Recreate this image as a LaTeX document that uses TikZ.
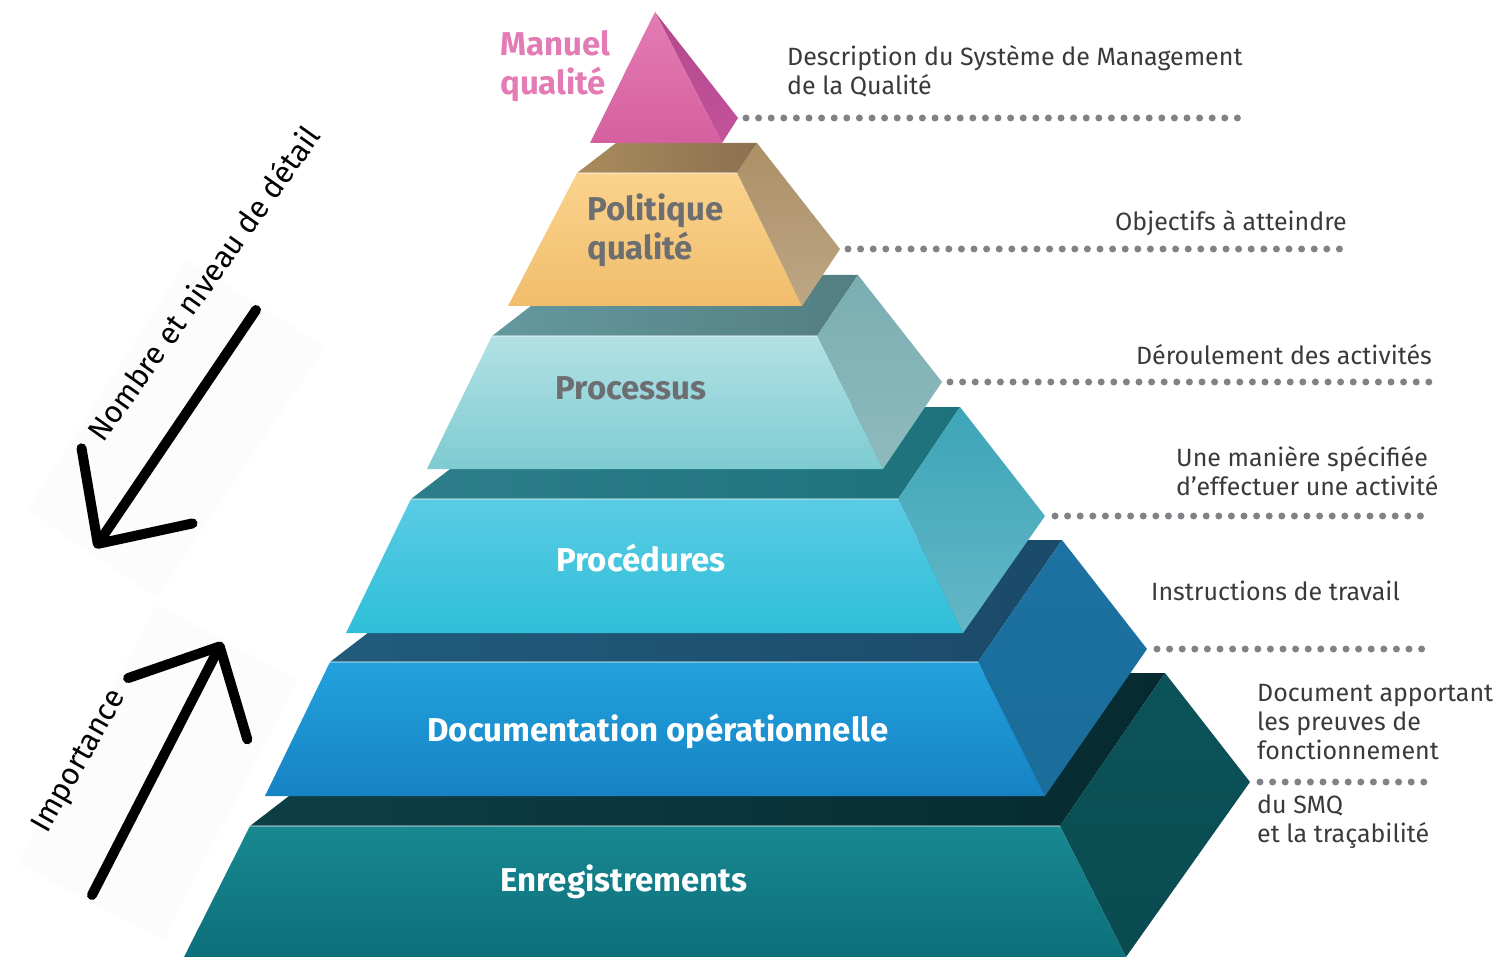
\documentclass[tikz,border=0pt]{standalone}
\usepackage{fontspec}
\setmainfont{Fira Sans}
\usetikzlibrary{arrows.meta,positioning}
\definecolor{pinkfront}{HTML}{E37CB4}
\definecolor{pinkfrontb}{HTML}{D6609F}
\definecolor{pinkside}{HTML}{C4529B}
\definecolor{goldfront}{HTML}{FBD38C}
\definecolor{goldfrontb}{HTML}{F0BD6C}
\definecolor{goldtopl}{HTML}{A98B5C}
\definecolor{goldtopr}{HTML}{8B7150}
\definecolor{goldside}{HTML}{AC9066}
\definecolor{aquafront}{HTML}{B2E1E5}
\definecolor{aquafrontb}{HTML}{7ECBD2}
\definecolor{aquatopl}{HTML}{64999E}
\definecolor{aquatopr}{HTML}{537E82}
\definecolor{aquaside}{HTML}{7AAEB2}
\definecolor{cyanfront}{HTML}{5BCBE4}
\definecolor{cyanfrontb}{HTML}{2EBFD8}
\definecolor{cyantopl}{HTML}{2C7F8A}
\definecolor{cyantopr}{HTML}{1E727C}
\definecolor{cyanside}{HTML}{3DA5B8}
\definecolor{bluefront}{HTML}{22A2DD}
\definecolor{bluefrontb}{HTML}{1782C3}
\definecolor{bluetopl}{HTML}{215B7C}
\definecolor{bluetopr}{HTML}{1B4A6A}
\definecolor{blueside}{HTML}{1C72A2}
\definecolor{tealfront}{HTML}{178891}
\definecolor{tealfrontb}{HTML}{0D6F79}
\definecolor{tealtopl}{HTML}{0D3F47}
\definecolor{tealtopr}{HTML}{062A30}
\definecolor{tealside}{HTML}{0B5359}
\definecolor{labelgray}{HTML}{6D6E71}
\definecolor{notegray}{HTML}{3A3A3A}
\definecolor{dotgray}{HTML}{808285}
\tikzset{
  % 金字塔各层的文字
  lvl/.style={font=\fontsize{33}{39}\selectfont\bfseries, align=left, inner sep=0pt},
  % 右侧说明
  note/.style={font=\fontsize{25}{29}\selectfont, text=notegray, inner sep=0pt},
  % 点线
  dots/.style={draw=dotgray, line width=7pt, line cap=round, dash pattern=on 0pt off 12.6pt},
  % 高光
  gloss/.style={draw=white, line width=1.5pt, opacity=.35},
}

\begin{document}
\begin{tikzpicture}[x=1pt, y=-1pt,
        bigarrow/.style={line width=10pt, line cap=round, line join=round,
            -{Straight Barb[length=70pt, width=134pt, line cap=round, line join=round]}},
        side/.style={font=\fontsize{30.5}{32}\selectfont, inner sep=0pt}
    ]
        \useasboundingbox (0,0) rectangle (1507,957);

        % 左侧浅色底
        \fill[black!1] (27,510) -- (187,260) -- (325,347) -- (157,597) -- cycle;
        \fill[black!1] (17,863) -- (157,605) -- (298,680) -- (163,940) -- cycle;

        % 第六层
        \shade[left color=tealtopl, right color=tealtopr] (250,826) -- (449,673) -- (1165,673) -- (1060,826) -- cycle;
        \shade[top color=tealside, bottom color=tealside!90!black] (1060,826) -- (1165,673) -- (1250,782) -- (1126,957) -- cycle;
        \shade[top color=tealfront, bottom color=tealfrontb] (250,826) -- (1060,826) -- (1126,957) -- (184,957) -- cycle;
        \draw[gloss] (250,826) -- (1060,826);
        \node[lvl, text=white] (enreg) at (624,882) {Enregistrements};

        % 第五层
        \shade[left color=bluetopl, right color=bluetopr] (330,662) -- (489,540) -- (1062,540) -- (978,662) -- cycle;
        \shade[top color=blueside, bottom color=blueside!95!black] (978,662) -- (1062,540) -- (1147,649) -- (1045,796) -- cycle;
        \shade[top color=bluefront, bottom color=bluefrontb] (330,662) -- (978,662) -- (1045,796) -- (265,796) -- cycle;
        \draw[gloss] (330,662) -- (978,662);
        \node[lvl, text=white] (docop) at (658,731) {Documentation opérationnelle};

        % 第四层
        \shade[left color=cyantopl, right color=cyantopr] (411,499) -- (531,407) -- (960,407) -- (898,499) -- cycle;
        \shade[top color=cyanside, bottom color=cyanside!80!white] (898,499) -- (960,407) -- (1045,516) -- (963,633) -- cycle;
        \shade[top color=cyanfront, bottom color=cyanfrontb] (411,499) -- (898,499) -- (963,633) -- (346,633) -- cycle;
        \draw[gloss] (411,499) -- (898,499);
        \node[lvl, text=white] (procedures) at (641,558) {Procédures};

        % 第三层
        \shade[left color=aquatopl, right color=aquatopr] (492,336) -- (571,275) -- (858,275) -- (817,336) -- cycle;
        \shade[top color=aquaside, bottom color=aquaside!85!white] (817,336) -- (858,275) -- (942,382) -- (883,469) -- cycle;
        \shade[top color=aquafront, bottom color=aquafrontb] (492,336) -- (817,336) -- (883,469) -- (427,469) -- cycle;
        \draw[gloss] (492,336) -- (817,336);
        \node[lvl, text=labelgray] (processus) at (631,388) {Processus};

        % 第二层
        \shade[left color=goldtopl, right color=goldtopr] (577,173) -- (616,143) -- (757,143) -- (737,173) -- cycle;
        \shade[top color=goldside, bottom color=goldside!80!white] (737,173) -- (757,143) -- (840,249) -- (802,306) -- cycle;
        \shade[top color=goldfront, bottom color=goldfrontb] (577,173) -- (737,173) -- (802,306) -- (508,306) -- cycle;
        \draw[gloss] (577,173) -- (737,173);
        \node[lvl, text=labelgray, anchor=north west] (politique) at (587,194) {Politique\\qualité};

        % 顶层
        \shade[top color=pinkside!90!black, bottom color=pinkside] (655,12) -- (738,118) -- (722,143) -- cycle;
        \shade[top color=pinkfront, bottom color=pinkfrontb] (655,12) -- (722,143) -- (590,143) -- cycle;
        \node[lvl, text=pinkfront, anchor=north west] (manuel) at (500,30) {Manuel\\qualité};

        % 点线端点
        \coordinate (t1) at (746,118);  \coordinate (e1) at (1243,118);
        \coordinate (t2) at (848,249);  \coordinate (e2) at (1343,249);
        \coordinate (t3) at (950,382);  \coordinate (e3) at (1430,382);
        \coordinate (t4) at (1055,516); \coordinate (e4) at (1428,516);
        \coordinate (t5) at (1157,649); \coordinate (e5) at (1430,649);
        \coordinate (t6) at (1260,782); \coordinate (e6) at (1425,782);
        \foreach \i in {1,...,6}
            \draw[dots] (t\i) -- (e\i);

        % 右侧说明
        \node[note, anchor=north west, align=left] (n1) at (787,45) {Description du Système de Management\\de la Qualité};
        \node[note, anchor=north east] (n2) at (1347,210) {Objectifs à atteindre};
        \node[note, anchor=north east] (n3) at (1432,344) {Déroulement des activités};
        \node[note, anchor=north west, align=left] (n4) at (1176,446) {Une manière spécifiée\\d’effectuer une activité};
        \node[note, anchor=north west] (n5) at (1151,581) {Instructions de travail};
        \node[note, anchor=north west, align=left] (n6) at (1257,684) {Document apportant\\les preuves de\\fonctionnement};
        \node[note, anchor=north west, align=left] (n7) at (1257,795) {du SMQ\\et la traçabilité};

        % 左侧箭头
        \coordinate (a1s) at (256,310); \coordinate (a1e) at (95,548);
        \coordinate (a2s) at (92,895);  \coordinate (a2e) at (222,642);
        \draw[bigarrow] (a1s) -- (a1e);
        \draw[bigarrow] (a2s) -- (a2e);
        \node[side, rotate=54.6] (nombre) at (203,283) {Nombre et niveau de détail};
        \node[side, rotate=60.5] (importance) at (80,762) {Importance};
    \end{tikzpicture}
\end{document}
